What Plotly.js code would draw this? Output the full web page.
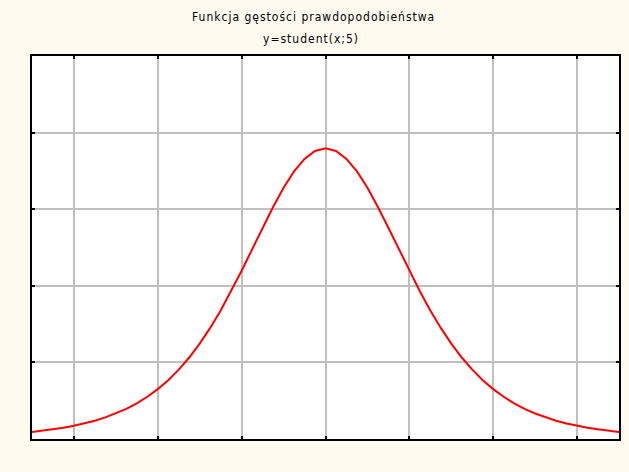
<!DOCTYPE html>
<html>
<head>
<meta charset="utf-8">
<script src="https://cdn.plot.ly/plotly-3.0.1.min.js"></script>
<style>html,body{margin:0;padding:0;background:#fffaf0;}#chart{width:629px;height:472px;}</style>
</head>
<body>
<div id="chart"></div>
<script>
// x positions (step 0.125)
const xValues = [
  -3.5, -3.375, -3.25, -3.125, -3.0, -2.875, -2.75, -2.625, -2.5, -2.375, -2.25, -2.125,
  -2.0, -1.875, -1.75, -1.625, -1.5, -1.375, -1.25, -1.125, -1.0, -0.875, -0.75, -0.625,
  -0.5, -0.375, -0.25, -0.125, 0.0, 0.125, 0.25, 0.375, 0.5, 0.625, 0.75, 0.875,
  1.0, 1.125, 1.25, 1.375, 1.5, 1.625, 1.75, 1.875, 2.0, 2.125, 2.25, 2.375,
  2.5, 2.625, 2.75, 2.875, 3.0, 3.125, 3.25, 3.375, 3.5
];
// density values
const yValues = [
  0.0092, 0.0108, 0.0126, 0.0147, 0.0173, 0.0203, 0.0239, 0.0282, 0.0333, 0.0394, 0.0466, 0.0551,
  0.0651, 0.0768, 0.0905, 0.1064, 0.1245, 0.1450, 0.1679, 0.1929, 0.2197, 0.2476, 0.2757, 0.3029,
  0.3279, 0.3493, 0.3657, 0.3761, 0.3796, 0.3761, 0.3657, 0.3493, 0.3279, 0.3029, 0.2757, 0.2476,
  0.2197, 0.1929, 0.1679, 0.1450, 0.1245, 0.1064, 0.0905, 0.0768, 0.0651, 0.0551, 0.0466, 0.0394,
  0.0333, 0.0282, 0.0239, 0.0203, 0.0173, 0.0147, 0.0126, 0.0108, 0.0092
];
const xTicks = [-3, -2, -1, 0, 1, 2, 3];
const yTicks = [0, 0.1, 0.2, 0.3, 0.4, 0.5];
const titleLine1 = "Funkcja gęstości prawdopodobieństwa";
const titleLine2 = "y=student(x;5)";

const font = "Liberation Sans Narrow, Arial Narrow, DejaVu Sans Condensed, sans-serif";
const spaced = t => '<span style="letter-spacing:1px">' + t + '</span>';

const axisCommon = {
  showline: true, linecolor: "#000", linewidth: 2, mirror: "ticks",
  ticks: "inside", ticklen: 3, tickwidth: 2, tickcolor: "#000",
  showticklabels: false, showgrid: true, gridcolor: "#c0c0c0", gridwidth: 2,
  zeroline: false, fixedrange: true
};

Plotly.newPlot("chart", [{
  x: xValues, y: yValues, type: "scatter", mode: "lines",
  line: {color: "#ff0000", width: 2}, hoverinfo: "skip"
}], {
  width: 629, height: 472,
  paper_bgcolor: "#fffaf0", plot_bgcolor: "#ffffff",
  margin: {l: 32, r: 10, t: 56, b: 33, pad: 0},
  showlegend: false,
  xaxis: Object.assign({}, axisCommon, {range: [-3.5, 3.5], tickmode: "array", tickvals: xTicks}),
  yaxis: Object.assign({}, axisCommon, {range: [0, 0.5], tickmode: "array", tickvals: yTicks}),
  annotations: [
    {text: spaced(titleLine1), xref: "paper", yref: "paper", x: 0.48, y: 1, yshift: 39, showarrow: false,
     xanchor: "center", yanchor: "middle", font: {family: font, size: 12, color: "#000"}},
    {text: spaced(titleLine2), xref: "paper", yref: "paper", x: 0.476, y: 1, yshift: 17, showarrow: false,
     xanchor: "center", yanchor: "middle", font: {family: font, size: 12, color: "#000"}}
  ]
}, {displayModeBar: false, staticPlot: true});
</script>
</body>
</html>
